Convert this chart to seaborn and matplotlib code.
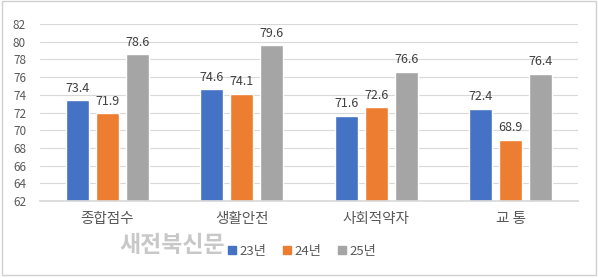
import matplotlib
matplotlib.use("Agg")
import matplotlib.pyplot as plt
import seaborn as sns
import pandas as pd
from matplotlib.patches import Rectangle

categories = ["종합점수", "생활안전", "사회적약자", "교 통"]
series_names = ["23년", "24년", "25년"]
v23 = [73.4, 74.6, 71.6, 72.4]
v24 = [71.9, 74.1, 72.6, 68.9]
v25 = [78.6, 79.6, 76.6, 76.4]
yticks = list(range(62, 83, 2))
colors = ["#4472C4", "#ED7D31", "#A5A5A5"]

rows = []
for name, vals in zip(series_names, [v23, v24, v25]):
    for c, v in zip(categories, vals):
        rows.append({"cat": c, "year": name, "val": v})
df = pd.DataFrame(rows)

sns.set_theme(style="white")
plt.rcParams['font.family'] = ['Noto Sans CJK KR', 'DejaVu Sans']

fig = plt.figure(figsize=(5.98, 2.78), dpi=100)
ax = fig.add_axes([40/598, 1-201/278, 538/598, 177/278])

sns.barplot(data=df, x="cat", y="val", hue="year", palette=colors,
            width=0.67, gap=0.233, ax=ax, legend=False, saturation=1)

ax.set_ylim(62, 82)
ax.set_yticks(yticks)
ax.set_xlim(-0.5, 3.5)
ax.yaxis.grid(True, color="#D9D9D9", linewidth=0.8)
ax.set_axisbelow(True)
for s in ["top", "right", "left"]:
    ax.spines[s].set_visible(False)
ax.spines["bottom"].set_color("#D9D9D9")
ax.tick_params(axis="y", length=0, labelsize=8.5, colors="#595959", pad=10)
ax.tick_params(axis="x", length=0, labelsize=10.5, colors="#595959", pad=8)
ax.set_xlabel("")
ax.set_ylabel("")

for cont in ax.containers:
    ax.bar_label(cont, fmt="%.1f", padding=4, fontsize=9, color="#404040")

# watermark
fig.text(119/598, 1-246/278, "새전북신문", fontsize=16.5, fontweight="bold",
         color="#C8C8C8", va="center", ha="left")

# legend
handles = [Rectangle((0, 0), 1, 1, color=c) for c in colors]
fig.legend(handles, series_names, loc="center", bbox_to_anchor=(302/598, 1-251/278),
           ncol=3, frameon=False, fontsize=9.5, handlelength=0.6, handleheight=0.6,
           handletextpad=0.25, columnspacing=1.3, labelcolor="#595959")

# frame
fig.patches.append(Rectangle((2/598, 3/278), 594/598, 274/278, transform=fig.transFigure,
                             fill=False, edgecolor="#D0D0D0", linewidth=1))

fig.savefig("out.png", dpi=100)
